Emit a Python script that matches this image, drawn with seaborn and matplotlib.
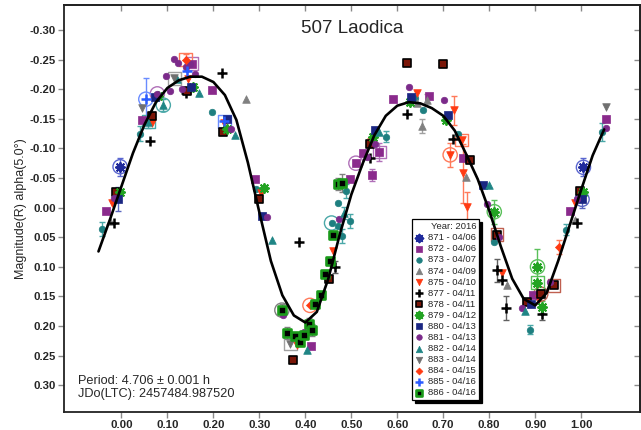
import matplotlib
matplotlib.use("Agg")
import matplotlib.pyplot as plt
import numpy as np
import seaborn as sns

sns.set_style("ticks")
plt.rcParams["font.family"] = ["Liberation Sans", "DejaVu Sans"]

# ---- Fourier fit of the composite lightcurve (phase, reduced magnitude) ----
fit_phase = [-0.050, -0.025, 0.000, 0.025, 0.050, 0.075, 0.100, 0.125, 0.150, 0.175,
             0.200, 0.225, 0.250, 0.275, 0.300, 0.325, 0.350, 0.375, 0.400, 0.425,
             0.450, 0.475, 0.500, 0.525, 0.550, 0.575, 0.600, 0.625, 0.650, 0.675,
             0.700, 0.725, 0.750, 0.775, 0.800, 0.825, 0.850, 0.875, 0.900, 0.925,
             0.950, 0.975, 1.000, 1.025, 1.050]
fit_mag = [0.074, 0.020, -0.036, -0.092, -0.140, -0.178, -0.202, -0.215, -0.221, -0.221,
           -0.212, -0.190, -0.148, -0.076, 0.008, 0.090, 0.148, 0.182, 0.194, 0.176,
           0.120, 0.045, -0.022, -0.075, -0.122, -0.155, -0.172, -0.178, -0.176, -0.168,
           -0.155, -0.130, -0.090, -0.048, 0.005, 0.065, 0.120, 0.154, 0.165, 0.144,
           0.090, 0.030, -0.030, -0.088, -0.132]

# ---- observing sessions: phase, magnitude, error, ring marker ----
s871_phase = [-0.003, 1.005]
s871_mag = [-0.069, -0.068]
s871_err = [0.015, 0.015]
s871_ring = ["o", "o"]

s872_phase = [-0.034, 0.044, 0.153, 0.198, 0.291, 0.412, 0.497, 0.510, 0.525, 0.545,
              0.561, 0.590, 0.668, 0.744, 0.896, 0.976, 1.054]
s872_mag = [0.005, -0.148, -0.243, -0.199, -0.049, 0.234, -0.049, -0.075, -0.093, -0.055,
            -0.094, -0.183, -0.188, -0.083, 0.148, 0.005, -0.149]
s872_err = [0, 0, 0, 0, 0, 0, 0, 0, 0, 0.01, 0.015, 0, 0, 0, 0, 0, 0]
s872_ring = ["", "", "s", "", "", "", "", "o", "", "", "s", "", "", "", "", "", ""]

s873_phase = [-0.042, 0.040, 0.198, 0.293, 0.457, 0.470, 0.470, 0.479, 0.489, 0.497,
              0.576, 0.639, 0.655, 0.733, 0.811, 0.889, 0.967, 1.045]
s873_mag = [0.036, -0.125, -0.162, -0.031, 0.026, -0.008, 0.031, 0.048, -0.028, 0.022,
            -0.120, -0.185, -0.165, -0.125, 0.058, 0.206, 0.037, -0.128]
s873_err = [0.012, 0.012, 0, 0, 0, 0, 0, 0.012, 0.012, 0.012, 0.01, 0, 0, 0, 0, 0.008, 0.01, 0.015]
s873_ring = ["", "", "", "", "o", "", "", "", "", "", "", "", "", "", "", "", "", ""]

s874_phase = [-0.024, 0.270, 0.642, 0.654, 0.664, 0.750, 0.838, 0.987]
s874_mag = [0.022, -0.183, -0.176, -0.138, -0.182, -0.051, 0.131, 0.021]
s874_err = [0, 0, 0, 0.012, 0.01, 0, 0, 0]
s874_ring = ["", "", "", "", "", "", "", ""]

s875_phase = [-0.021, 0.066, 0.144, 0.224, 0.303, 0.381, 0.461, 0.542, 0.642, 0.715,
              0.724, 0.740, 0.742, 0.751, 0.827, 0.909, 0.987]
s875_mag = [-0.008, -0.142, -0.217, -0.142, -0.024, 0.232, 0.073, -0.111, -0.193, -0.089,
            -0.164, -0.114, -0.058, -0.001, 0.111, 0.155, -0.007]
s875_err = [0, 0, 0, 0, 0, 0, 0, 0, 0, 0.02, 0.025, 0, 0.05, 0.025, 0, 0, 0]
s875_ring = ["", "", "", "", "", "", "", "", "", "o", "", "s", "", "", "", "", ""]

s877_phase = [-0.016, 0.061, 0.140, 0.219, 0.387, 0.465, 0.541, 0.621, 0.721, 0.817,
              0.827, 0.837, 0.914, 0.992]
s877_mag = [0.026, -0.113, -0.194, -0.228, 0.058, 0.100, -0.083, -0.158, -0.115, 0.106,
            0.123, 0.170, 0.179, 0.026]
s877_err = [0, 0, 0, 0, 0, 0.01, 0, 0, 0, 0.02, 0, 0.02, 0.01, 0]
s877_ring = ["", "", "", "", "", "", "", "", "", "", "", "", "", ""]

s878_phase = [-0.012, 0.066, 0.142, 0.220, 0.299, 0.374, 0.452, 0.540, 0.622, 0.699,
              0.758, 0.817, 0.882, 0.912, 0.941, 0.998]
s878_mag = [-0.027, -0.155, -0.197, -0.127, -0.014, 0.258, 0.120, -0.108, -0.244, -0.242,
            -0.080, 0.046, 0.159, 0.146, 0.131, -0.028]
s878_err = [0, 0, 0, 0, 0, 0, 0, 0, 0, 0, 0, 0, 0, 0, 0, 0]
s878_ring = ["", "", "", "", "", "", "", "", "", "", "", "s", "", "o", "s", ""]

s879_phase = [-0.003, 0.080, 0.156, 0.229, 0.310, 0.548, 0.628, 0.706, 0.811, 0.905,
              0.905, 0.914, 1.005]
s879_mag = [-0.027, -0.188, -0.204, -0.132, -0.033, -0.119, -0.179, -0.148, 0.007, 0.100,
            0.127, 0.168, -0.027]
s879_err = [0, 0, 0, 0, 0, 0, 0, 0, 0.02, 0.03, 0, 0.01, 0]
s879_ring = ["", "", "", "", "", "", "", "", "o", "o", "s", "", ""]

s880_phase = [-0.007, 0.073, 0.151, 0.229, 0.305, 0.552, 0.630, 0.711, 0.787, 0.890, 1.002]
s880_mag = [-0.014, -0.186, -0.204, -0.150, 0.014, -0.131, -0.186, -0.156, -0.038, 0.163, -0.014]
s880_err = [0.02, 0, 0, 0, 0, 0, 0, 0, 0, 0, 0.015]
s880_ring = ["", "", "", "", "", "", "", "", "", "", "o"]

s881_phase = [-0.016, 0.078, 0.097, 0.106, 0.114, 0.124, 0.132, 0.140, 0.149, 0.160,
              0.238, 0.316, 0.352, 0.396, 0.474, 0.534, 0.552, 0.625, 0.702, 0.795,
              0.822, 0.871, 0.933, 0.992, 1.054]
s881_mag = [-0.017, -0.192, -0.222, -0.196, -0.251, -0.244, -0.200, -0.238, -0.243, -0.225,
            -0.132, 0.016, 0.182, 0.210, 0.020, -0.086, -0.108, -0.204, -0.182, -0.006,
            0.050, 0.170, 0.125, -0.014, -0.134]
s881_err = [0] * 25
s881_ring = ["", "o"] + [""] * 23

s882_phase = [0.058, 0.091, 0.120, 0.169, 0.247, 0.327, 0.404, 0.484, 0.561, 0.800, 0.878]
s882_mag = [-0.145, -0.173, -0.217, -0.193, -0.123, 0.055, 0.241, 0.009, -0.127, -0.039, 0.174]
s882_err = [0.01, 0.01, 0, 0, 0, 0, 0, 0.01, 0, 0, 0]
s882_ring = ["s", "o", "", "", "", "", "", "", "", "", ""]

s883_phase = [0.045, 0.115, 0.367, 1.054]
s883_mag = [-0.168, -0.218, 0.230, -0.169]
s883_err = [0, 0, 0, 0]
s883_ring = ["", "s", "s", ""]

s884_phase = [0.140, 0.410, 0.951]
s884_mag = [-0.250, 0.165, 0.067]
s884_err = [0.01, 0, 0.012]
s884_ring = ["s", "o", ""]

s885_phase = [0.053, 0.142, 0.224]
s885_mag = [-0.183, -0.231, -0.146]
s885_err = [0.035, 0.012, 0]
s885_ring = ["o", "", "s"]

s886_phase = [0.349, 0.361, 0.378, 0.388, 0.396, 0.407, 0.414, 0.421, 0.434, 0.443,
              0.454, 0.461, 0.470, 0.479]
s886_mag = [0.173, 0.211, 0.217, 0.227, 0.215, 0.197, 0.206, 0.162, 0.148, 0.112,
            0.090, 0.046, -0.040, -0.042]
s886_err = [0.01, 0.01, 0, 0, 0, 0.01, 0.01, 0, 0, 0, 0, 0, 0.01, 0.015]
s886_ring = ["o", "", "", "", "", "", "", "", "", "", "", "", "", ""]

session_labels = ["871 - 04/06", "872 - 04/06", "873 - 04/07", "874 - 04/09",
                  "875 - 04/10", "877 - 04/11", "878 - 04/11", "879 - 04/12",
                  "880 - 04/13", "881 - 04/13", "882 - 04/14", "883 - 04/14",
                  "884 - 04/15", "885 - 04/16", "886 - 04/16"]

x_ticks = [0.0, 0.1, 0.2, 0.3, 0.4, 0.5, 0.6, 0.7, 0.8, 0.9, 1.0]
y_ticks = [-0.30, -0.25, -0.20, -0.15, -0.10, -0.05, 0.00, 0.05, 0.10, 0.15, 0.20, 0.25, 0.30]

title_text = "507 Laodica"
period_text = "Period: 4.706 \u00b1 0.001 h"
epoch_text = "JDo(LTC): 2457484.987520"
y_label = "Magnitude(R) alpha(5.0\u00b0)"

# marker styling per session (in session order)
styles = [
    dict(marker=(8, 2, 0), s=42, color="#1f2a9c", linewidth=1.4),
    dict(marker="s", s=30, color="#8a2a8c", edgecolor="#8a2a8c", linewidth=0.5),
    dict(marker="o", s=22, color="#1e7f80", edgecolor="#1e7f80", linewidth=0.5),
    dict(marker="^", s=30, color="#808080", edgecolor="#808080", linewidth=0.5),
    dict(marker="v", s=30, color="#ff3a12", edgecolor="#ff3a12", linewidth=0.5),
    dict(marker="+", s=48, color="black", linewidth=1.8),
    dict(marker="s", s=30, color="#7a1608", edgecolor="black", linewidth=1.2),
    dict(marker=(8, 2, 0), s=42, color="#22a322", linewidth=1.4),
    dict(marker="s", s=30, color="#1a2682", edgecolor="#1a2682", linewidth=0.5),
    dict(marker="o", s=22, color="#7b2a8a", edgecolor="#7b2a8a", linewidth=0.5),
    dict(marker="^", s=30, color="#1f8585", edgecolor="#1f8585", linewidth=0.5),
    dict(marker="v", s=30, color="#707070", edgecolor="#707070", linewidth=0.5),
    dict(marker="D", s=17, color="#ff3a12", edgecolor="#ff3a12", linewidth=0.5),
    dict(marker="+", s=48, color="#2b5cff", linewidth=1.8),
    dict(marker="s", s=26, color="black", edgecolor="#1a9a1a", linewidth=1.9),
]
ring_colors = ["#5a66d0", "#b070b8", "#4aa8a8", "#a0a0a0", "#ff7a5a", "#606060",
               "#c06050", "#5ac05a", "#5a66c0", "#b070b8", "#4aa8a8", "#a0a0a0",
               "#ff7a5a", "#6a8cff", "#808080"]

series = [
    (s871_phase, s871_mag, s871_err, s871_ring),
    (s872_phase, s872_mag, s872_err, s872_ring),
    (s873_phase, s873_mag, s873_err, s873_ring),
    (s874_phase, s874_mag, s874_err, s874_ring),
    (s875_phase, s875_mag, s875_err, s875_ring),
    (s877_phase, s877_mag, s877_err, s877_ring),
    (s878_phase, s878_mag, s878_err, s878_ring),
    (s879_phase, s879_mag, s879_err, s879_ring),
    (s880_phase, s880_mag, s880_err, s880_ring),
    (s881_phase, s881_mag, s881_err, s881_ring),
    (s882_phase, s882_mag, s882_err, s882_ring),
    (s883_phase, s883_mag, s883_err, s883_ring),
    (s884_phase, s884_mag, s884_err, s884_ring),
    (s885_phase, s885_mag, s885_err, s885_ring),
    (s886_phase, s886_mag, s886_err, s886_ring),
]

fig = plt.figure(figsize=(6.41, 4.30), dpi=100)
ax = fig.add_axes([64 / 641, 18 / 430, 576 / 641, 407 / 430])

handles = []
for (ph, mg, er, rg), style, rcol, lab in zip(series, styles, ring_colors, session_labels):
    ph = np.asarray(ph)
    mg = np.asarray(mg)
    er = np.asarray(er, dtype=float)
    rg = np.asarray(rg)
    has_err = er > 0
    if has_err.any():
        ax.errorbar(ph[has_err], mg[has_err], yerr=er[has_err], fmt="none",
                    ecolor=rcol, elinewidth=1.0, capsize=2.2, capthick=1.0, zorder=2)
    for ring_marker, ring_size in (("o", 105), ("s", 85)):
        sel = rg == ring_marker
        if sel.any():
            ax.scatter(ph[sel], mg[sel], marker=ring_marker, s=ring_size,
                       facecolors="none", edgecolors=rcol, linewidths=1.0, zorder=2.5)
    sns.scatterplot(x=ph, y=mg, ax=ax, label=lab, zorder=3, legend=False, **style)
    handles.append(ax.collections[-1])

sns.lineplot(x=fit_phase, y=fit_mag, sort=False, color="black", linewidth=1.9,
             ax=ax, zorder=4)

ax.set_xlim(-0.125, 1.128)
ax.set_ylim(0.345, -0.342)
ax.set_xticks(x_ticks)
ax.set_xticklabels([f"{v:.2f}" for v in x_ticks])
ax.set_yticks(y_ticks)
ax.set_yticklabels([f"{v:.2f}" for v in y_ticks])
ax.tick_params(axis="both", direction="out", length=4, width=1, color="#8a8a8a",
               labelsize=8.2, pad=2)
for lbl in ax.get_xticklabels() + ax.get_yticklabels():
    lbl.set_fontweight("bold")
ax.set_xlabel("")
ax.set_ylabel(y_label, fontsize=9, labelpad=2)

# inward ticks on the top and right frame
top = ax.secondary_xaxis("top")
top.set_xticks(x_ticks)
top.tick_params(direction="in", length=4, width=1, color="#8a8a8a", labeltop=False)
right = ax.secondary_yaxis("right")
right.set_yticks(y_ticks)
right.tick_params(direction="in", length=4, width=1, color="#8a8a8a", labelright=False)

for sp in ax.spines.values():
    sp.set_linewidth(1.3)
    sp.set_color("#222222")
for sp in list(top.spines.values()) + list(right.spines.values()):
    sp.set_linewidth(1.3)
    sp.set_color("#222222")

ax.text(0.5, 0.943, title_text, transform=ax.transAxes, ha="center", va="center",
        fontsize=13.5)
ax.text(0.024, 0.076, period_text, transform=ax.transAxes, ha="left", va="center",
        fontsize=9.2)
ax.text(0.024, 0.044, epoch_text, transform=ax.transAxes, ha="left", va="center",
        fontsize=9.2)

leg = ax.legend(handles, session_labels, title="Year: 2016", loc="lower left",
                bbox_to_anchor=(0.604, 0.029), borderaxespad=0, fontsize=6.8,
                title_fontsize=6.8, frameon=True, fancybox=False, framealpha=1,
                edgecolor="black", handlelength=0.9, handletextpad=0.5,
                labelspacing=0.22, borderpad=0.3, markerscale=0.85,
                alignment="right", shadow={"color": "black", "alpha": 1.0})
leg.get_frame().set_linewidth(0.9)
leg.set_zorder(6)

fig.savefig("out.png", dpi=100)
